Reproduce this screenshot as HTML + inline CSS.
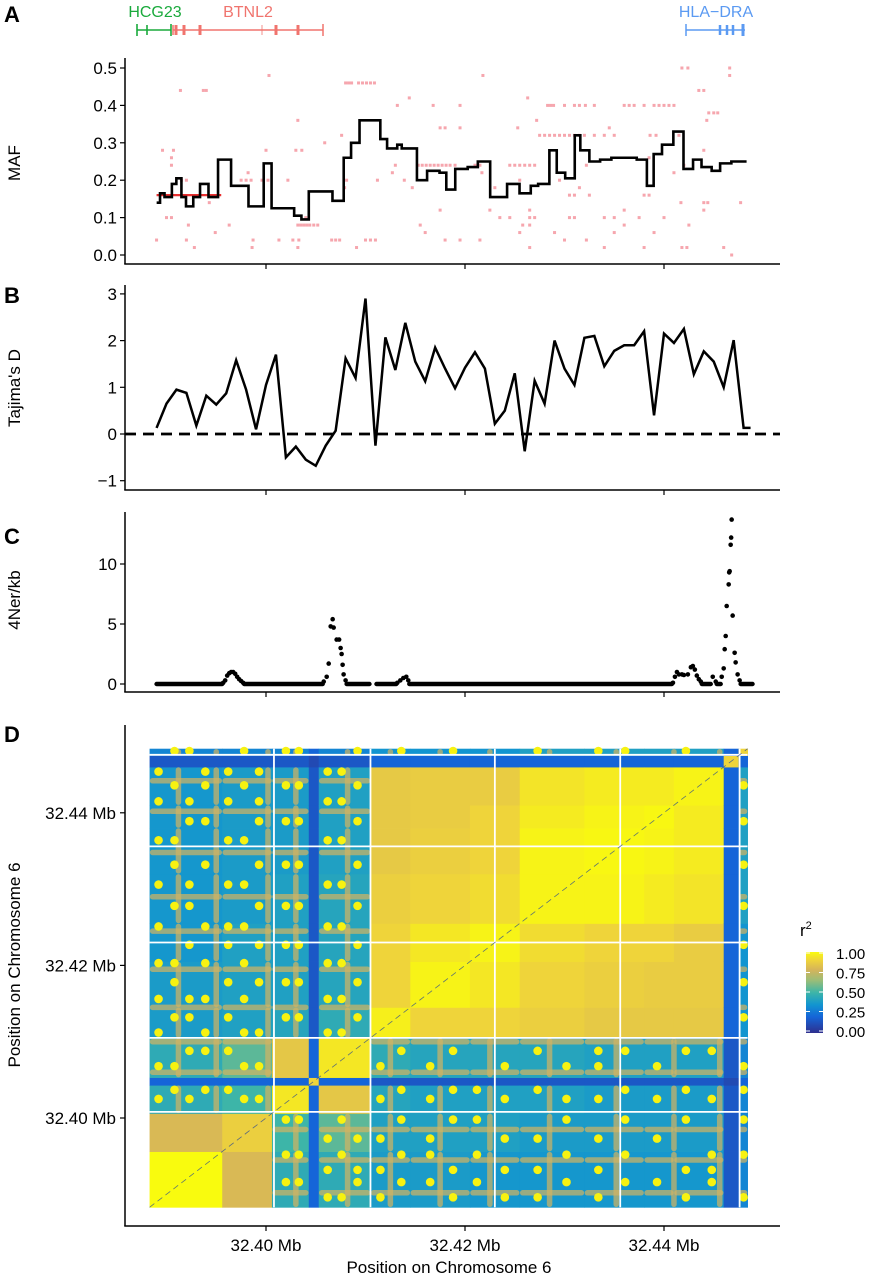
<!DOCTYPE html>
<html><head><meta charset="utf-8"><style>
html,body{margin:0;padding:0;background:#fff;}
svg{display:block;font-family:"Liberation Sans",Arial,sans-serif;}
</style></head><body>
<svg id="fig" width="876" height="1280" viewBox="0 0 876 1280" xmlns="http://www.w3.org/2000/svg">
<g id="annot">
<text x="4" y="22" font-size="22" font-weight="bold">A</text>
<text x="4" y="303" font-size="22" font-weight="bold">B</text>
<text x="4" y="544" font-size="22" font-weight="bold">C</text>
<text x="4" y="742" font-size="22" font-weight="bold">D</text>
<text transform="translate(20,163) rotate(-90)" text-anchor="middle" font-size="17">MAF</text>
<text transform="translate(20,388) rotate(-90)" text-anchor="middle" font-size="17">Tajima's D</text>
<text transform="translate(20,600) rotate(-90)" text-anchor="middle" font-size="17">4Ner/kb</text>
<text transform="translate(20,965) rotate(-90)" text-anchor="middle" font-size="17">Position on Chromosome 6</text>
<text x="449" y="1273" text-anchor="middle" font-size="17">Position on Chromosome 6</text>
<text x="155" y="17" text-anchor="middle" font-size="16" fill="#1aaa3c">HCG23</text>
<text x="248" y="17" text-anchor="middle" font-size="16" fill="#f0746e">BTNL2</text>
<text x="716" y="17" text-anchor="middle" font-size="16" fill="#5b9af2">HLA−DRA</text>
<text x="800" y="936" font-size="17">r<tspan dy="-7" font-size="11">2</tspan></text>
</g>
</svg>
<script>
// ---------- data ----------
// positions are kb offsets from 32.38 Mb
const xTicksMb = [32.40, 32.42, 32.44];
const xTickLabels = ["32.40 Mb", "32.42 Mb", "32.44 Mb"];
const mafTicks = [0.0, 0.1, 0.2, 0.3, 0.4, 0.5];
const tajTicks = [-1, 0, 1, 2, 3];
const recTicks = [0, 5, 10];
const ldTickLabels = ["32.40 Mb", "32.42 Mb", "32.44 Mb"];
const legendTicks = [0, 0.25, 0.5, 0.75, 1.0];

const mafStepPos = [9.01,9.35,9.80,10.54,10.99,11.50,11.96,12.69,13.37,14.22,15.18,16.49,18.24,19.77,20.56,22.83,23.56,24.30,26.68,27.81,28.55,29.40,31.49,32.17,33.19,33.64,35.17,36.19,37.44,38.12,39.02,40.27,41.29,42.53,44.23,45.48,46.61,47.35,48.48,49.22,50.07,51.03,51.59,52.50,53.58,54.71,57.26,58.28,58.96,59.80,60.94,61.96,62.92,63.77,64.79,65.64,66.77,68.3];
const mafStepVal = [0.14,0.165,0.155,0.19,0.205,0.155,0.13,0.155,0.19,0.155,0.255,0.185,0.13,0.245,0.125,0.105,0.095,0.17,0.145,0.26,0.30,0.36,0.31,0.285,0.295,0.285,0.20,0.225,0.22,0.175,0.23,0.235,0.25,0.155,0.19,0.165,0.185,0.19,0.28,0.22,0.205,0.32,0.28,0.25,0.255,0.26,0.255,0.185,0.27,0.295,0.33,0.23,0.255,0.235,0.225,0.245,0.25,0.25];

const mafDotPos = [61.8,62.4,66.6,66.6,20.3,41.8,28,28.3,28.6,29.3,29.7,30.1,30.5,30.9,11.4,13.7,14.0,63.5,64.0,34.4,46.3,33.2,36.8,39.5,48.3,48.6,48.9,50,51,51.5,52.1,53,56,56.5,57,58,59,59.5,60,60.5,61,64.5,65,65.4,23.2,47.2,64.3,37.5,38,39.5,45.3,54.5,27.6,47.5,48,48.5,49,49.5,50,50.5,51,51.5,52,53,54,55,58.6,59.2,61.5,25.9,9.6,10.7,20.0,23,23.6,64,10.5,58.5,10.5,33,35.3,35.7,36.1,36.5,36.9,37.3,37.7,38.1,38.5,39,41,41.5,44.5,45,45.5,46,46.5,47,52.2,62,18.2,32.7,41.7,61,11.5,12,17.5,18,18.5,19.6,20.2,22.2,28.1,31.2,33.9,45.5,49.5,27.9,34.7,43,51.5,50.5,51,52.5,58,58.5,14.3,64,64.4,67.7,61.7,37.5,42.5,46.5,56,64,10,10.5,24,43.5,44.5,46.5,47,50.5,51,54,55,57.5,60,12.2,16.3,23.2,23.5,23.8,24.1,24.4,24.8,25.2,35.5,45.8,46.5,56,62.5,14.9,36,45.5,49,55,59,9,12,18.7,21.3,22.7,23.3,26.6,27,27.4,30,30.5,31,38,39.5,41.5,50,52.2,12.8,18.6,23.2,29.1,46.5,54,58,61.8,62.3,66,66.8];
const mafDotVal = [0.5,0.5,0.5,0.48,0.48,0.48,0.46,0.46,0.46,0.46,0.46,0.46,0.46,0.46,0.44,0.44,0.44,0.44,0.44,0.42,0.42,0.4,0.4,0.4,0.4,0.4,0.4,0.4,0.4,0.4,0.4,0.4,0.4,0.4,0.4,0.4,0.4,0.4,0.4,0.4,0.4,0.38,0.38,0.38,0.36,0.36,0.36,0.34,0.34,0.34,0.34,0.34,0.32,0.32,0.32,0.32,0.32,0.32,0.32,0.32,0.32,0.32,0.32,0.32,0.32,0.32,0.32,0.32,0.32,0.30,0.28,0.28,0.28,0.28,0.28,0.28,0.26,0.26,0.24,0.24,0.24,0.24,0.24,0.24,0.24,0.24,0.24,0.24,0.24,0.24,0.24,0.24,0.24,0.24,0.24,0.24,0.24,0.24,0.24,0.24,0.22,0.22,0.22,0.22,0.2,0.2,0.2,0.2,0.2,0.2,0.2,0.2,0.2,0.2,0.2,0.2,0.2,0.18,0.18,0.18,0.18,0.16,0.16,0.16,0.16,0.16,0.14,0.14,0.14,0.14,0.14,0.12,0.12,0.12,0.12,0.12,0.1,0.1,0.1,0.1,0.1,0.1,0.1,0.1,0.1,0.1,0.1,0.1,0.1,0.08,0.08,0.08,0.08,0.08,0.08,0.08,0.08,0.08,0.08,0.08,0.08,0.08,0.08,0.06,0.06,0.06,0.06,0.06,0.06,0.04,0.04,0.04,0.04,0.04,0.04,0.04,0.04,0.04,0.04,0.04,0.04,0.04,0.04,0.04,0.04,0.04,0.02,0.02,0.02,0.02,0.02,0.02,0.02,0.02,0.02,0.02,0.0];
const mafRedSeg = [9.0, 15.5, 0.16];

const tajPos = [9,10,11,12,13,14,15,16,17,18,19,20,21,22,23,24,25,26,27,28,29,30,31,32,33,34,35,36,37,38,39,40,41,42,43,44,45,46,47,48,49,50,51,52,53,54,55,56,57,58,59,60,61,62,63,64,65,66,67,68,68.7];
const tajVal = [0.13,0.65,0.95,0.88,0.18,0.82,0.63,0.87,1.58,0.95,0.1,1.05,1.7,-0.5,-0.27,-0.55,-0.68,-0.25,0.07,1.62,1.2,2.9,-0.25,2.07,1.37,2.38,1.55,1.13,1.85,1.4,0.98,1.42,1.75,1.4,0.22,0.5,1.3,-0.37,1.14,0.65,2.0,1.4,1.05,2.06,2.1,1.45,1.78,1.9,1.9,2.2,0.4,2.15,1.95,2.25,1.28,1.77,1.55,1.0,2.01,0.13,0.13];

const recPos = [15.7,15.9,16.1,16.3,16.5,16.7,16.9,17.1,17.3,17.5,17.7,25.8,26.1,26.3,26.5,26.7,26.8,27.1,27.35,27.5,27.6,27.7,27.8,28.0,33.2,33.5,33.8,34.1,34.3,60.9,61.1,61.3,61.5,61.8,62.0,62.4,62.7,62.9,63.1,63.3,63.5,63.7,64.9,65.2,65.8,66.0,66.1,66.2,66.3,66.5,66.55,66.6,66.7,66.75,66.8,66.9,67.1,67.2,67.4,67.6];
const recVal = [0.1,0.3,0.7,0.9,1.0,1.0,0.85,0.6,0.4,0.25,0.1,0.2,0.6,1.7,4.8,5.4,4.7,3.7,3.7,3.0,2.5,1.6,0.8,0.3,0.1,0.3,0.5,0.6,0.3,0.1,0.6,1.0,0.8,0.8,0.75,0.8,1.4,1.5,1.2,0.7,0.4,0.2,0.6,0.2,0.6,1.3,2.9,4.0,6.5,8.3,9.3,9.4,11.6,12.2,13.7,5.7,2.6,1.8,0.8,0.3];
const recZeroStart = [9.0,17.8,28.1,31.1,34.4,63.8,65.3,67.7];
const recZeroEnd   = [15.6,25.7,30.4,33.1,60.8,64.7,65.7,68.9];

const ldEdges = [8.3,15.6,20.6,24.3,25.3,30.5,34.5,40.5,45.5,52,58,61,66,67.5,68.4];
const ldR2 = [
[1.0,.8,.45,.2,.45,.38,.38,.36,.36,.36,.36,.36,.15,.3],
[.8,.88,.5,.2,.55,.4,.4,.4,.38,.38,.38,.38,.15,.3],
[.45,.5,.95,.2,.85,.42,.4,.4,.4,.38,.38,.38,.15,.3],
[.2,.2,.2,.9,.2,.15,.15,.15,.15,.15,.15,.15,.1,.2],
[.45,.55,.85,.2,.95,.45,.42,.42,.42,.4,.4,.4,.15,.3],
[.38,.4,.42,.15,.45,.97,.9,.9,.88,.86,.86,.86,.2,.35],
[.38,.4,.4,.15,.42,.9,.98,.95,.9,.88,.87,.87,.2,.35],
[.36,.4,.4,.15,.42,.9,.95,.98,.92,.9,.9,.87,.2,.35],
[.36,.38,.4,.15,.42,.88,.9,.92,.98,.98,.96,.94,.2,.4],
[.36,.38,.38,.15,.4,.86,.88,.9,.98,.99,.98,.96,.2,.4],
[.36,.38,.38,.15,.4,.86,.87,.9,.96,.98,.99,.96,.2,.4],
[.36,.38,.38,.15,.4,.86,.87,.87,.94,.96,.96,.98,.2,.4],
[.15,.15,.15,.1,.15,.2,.2,.2,.2,.2,.2,.2,.9,.2],
[.3,.3,.3,.2,.3,.35,.35,.35,.4,.4,.4,.4,.2,.9]];
const ldGaps = [20.8,30.5,43,55.6,67.6];
// SNPs with high LD to other haplotypes (yellow dot rows/cols) and moderate (tan stripes)
const hiX = [9.2,10.8,12.3,13.9,16.2,17.8,19.3,22,23.3,26.2,27.6,29.2,31.5,33.6,36.5,38.8,41.2,44,47.3,50.2,53.4,56.1,59.3,62.2,64.8,68];
const hiY = [9.6,11.6,13.2,15.2,17.3,19.8,22.5,23.7,26.8,28.8,31.2,33.2,35.6,37.8,40.3,42.7,45.1,47.8,50.6,53.2,56.4,58.9,61.5,63.6,65.4,68.1];
// which (row, col) pairs of the hi SNPs show a yellow dot: '1' = dot
const hiMask = [
"10110010011010010110100101",
"01001101100101101001011010",
"11010010010110010110100110",
"00101101101001101001010011",
"10010110010110100110101000",
"01101001101001011001010101",
"10100110010110100101101010",
"01011001101001011010010101",
"11000110010110100101101001",
"00111001101001010010110110",
"10010110011010101101001010",
"01101001100101010010110101",
"10110100011010101101001010",
"01001011100101010010110101",
"11010100011010101101001100",
"00101011100101010010110011",
"10011100011010101101001010",
"01100011100101010010110101",
"10101100011010101101001010",
"01010011100101010010110101",
"11001100011010101101001010",
"00110011100101010010110101",
"10101010011010101101001010",
"01010101100101010010110101",
"10011010011010101101001010",
"01100101100101010010110101"];
const tanRows = [10.2,14.5,18.5,26,30,34.5,39.5,44.5,49,54.8,60.2,64.2];
const tanCols = [11.2,15,20.2,23,28.2,32.5,37.5,42.5,48.5,55.2,61,65.6];

// ---------- scales ----------
const NS = "http://www.w3.org/2000/svg";
const svg = document.getElementById('fig');
const X = kb => 266 + (kb - 20) * 9.95;
const XMb = mb => X((mb - 32.38) * 1000);
const YA = v => 255 - v * 374;
const YB = d => 434 - d * 46.7;
const YC = r => 684 - r * 12;
const YD = kb => 1118 - (kb - 20) * 7.63;
function mk(tag, attrs, parent) {
  const e = document.createElementNS(NS, tag);
  for (const k in attrs) e.setAttribute(k, attrs[k]);
  (parent || svg).appendChild(e);
  return e;
}
const stops = [[0,[46,47,142]],[0.2,[21,101,216]],[0.35,[18,149,208]],[0.5,[61,181,168]],[0.65,[155,189,120]],[0.78,[213,180,90]],[0.9,[239,212,58]],[1,[249,251,14]]];
function col(v) {
  for (let i = 1; i < stops.length; i++) {
    if (v <= stops[i][0]) {
      const a = stops[i-1], b = stops[i], t = (v - a[0]) / (b[0] - a[0]);
      const c = a[1].map((q, k) => Math.round(q + (b[1][k] - q) * t));
      return `rgb(${c[0]},${c[1]},${c[2]})`;
    }
  }
  return 'rgb(249,251,14)';
}
function blk(kb) {
  for (let i = 0; i < ldEdges.length - 1; i++) if (kb < ldEdges[i+1]) return i;
  return ldEdges.length - 2;
}

// ---------- gene track ----------
function gene(x1, x2, ticks, color, name) {
  const g = mk('g', {});
  
  
  mk('line', {x1, x2, y1: 30, y2: 30, stroke: color, 'stroke-width': 1.6}, g);
  ticks.forEach(t => mk('line', {x1: t[0], x2: t[0], y1: 30 - t[1], y2: 30 + t[1], stroke: color, 'stroke-width': t[2]}, g));
}
gene(137, 171, [[137,6,1.6],[147,5,1.6],[171,6,1.6]], '#1aaa3c', 'gene-hcg23');
gene(173, 323, [[173,5,1.5],[176,5,3],[184,5,3],[200,5,3],[262,5,0.8],[276,5,3],[298,5,3],[323,6,1.5]], '#f0746e', 'gene-btnl2');
gene(686, 745, [[686,6,1.5],[720,5,2.5],[727,5,2.5],[733,5,2.5],[743,6,3]], '#5b9af2', 'gene-hla-dra');

// ---------- axes ----------
function axes(top, bottom, ticks, yf, fmt, name) {
  const g = mk('g', {});
  
  
  mk('line', {x1: 125, x2: 125, y1: top, y2: bottom, stroke: '#000', 'stroke-width': 1.5}, g);
  mk('line', {x1: 124.25, x2: 780, y1: bottom, y2: bottom, stroke: '#000', 'stroke-width': 1.5}, g);
  ticks.forEach(t => {
    const y = yf(t);
    mk('line', {x1: 120, x2: 125, y1: y, y2: y, stroke: '#000', 'stroke-width': 1.2}, g);
    const tx = mk('text', {x: 117, y: y + 6, 'text-anchor': 'end', 'font-size': 17}, g);
    tx.textContent = fmt(t);
  });
  xTicksMb.forEach(m => {
    const x = XMb(m);
    mk('line', {x1: x, x2: x, y1: bottom, y2: bottom + 5, stroke: '#000', 'stroke-width': 1.2}, g);
  });
}
axes(58, 264, mafTicks, YA, t => t.toFixed(1), 'maf-axes');
axes(285, 490, tajTicks, YB, t => t < 0 ? '−' + Math.abs(t) : String(t), 'tajima-axes');
axes(512, 692, recTicks, YC, t => String(t), 'rec-axes');

// ---------- panel A ----------
const gA = mk('g', {});


mafDotPos.forEach((p, i) => {
  const r = mk('rect', {x: X(p) - 1.5, y: YA(mafDotVal[i]) - 1.5, width: 3, height: 3, fill: '#f06a78', opacity: 0.6}, gA);
  
  
});
const rs = mk('line', {x1: X(mafRedSeg[0]), x2: X(mafRedSeg[1]), y1: YA(mafRedSeg[2]), y2: YA(mafRedSeg[2]), stroke: '#e83030', 'stroke-width': 2.2});


let d = '';
mafStepPos.forEach((p, i) => {
  const x = X(p), y = YA(mafStepVal[i]);
  if (i === 0) d += `M${x},${y}`;
  else d += `H${x}V${y}`;
});
const mafLine = mk('path', {d, fill: 'none', stroke: '#000', 'stroke-width': 2.6, 'stroke-linejoin': 'miter'});



// ---------- panel B ----------
const zero = mk('line', {x1: 125, x2: 780, y1: YB(0), y2: YB(0), stroke: '#000', 'stroke-width': 2.8, 'stroke-dasharray': '11,7'});


const tajLine = mk('polyline', {points: tajPos.map((p, i) => X(p) + ',' + YB(tajVal[i])).join(' '), fill: 'none', stroke: '#000', 'stroke-width': 2.5, 'stroke-linejoin': 'miter'});



// ---------- panel C ----------
const gC = mk('g', {});


recZeroStart.forEach((s, i) => {
  const ln = mk('line', {x1: X(s), x2: X(recZeroEnd[i]), y1: YC(0), y2: YC(0), stroke: '#000', 'stroke-width': 4.4, 'stroke-linecap': 'round'}, gC);
  
  
});
recPos.forEach((p, i) => {
  const c = mk('circle', {cx: X(p), cy: YC(recVal[i]), r: 2.3, fill: '#000'}, gC);
  
  
});

// ---------- panel D ----------
const gD = mk('g', {});


for (let i = 0; i < ldEdges.length - 1; i++) {
  for (let j = 0; j < ldEdges.length - 1; j++) {
    const x1 = X(ldEdges[i]), x2 = X(ldEdges[i+1]);
    const y1 = YD(ldEdges[j+1]), y2 = YD(ldEdges[j]);
    const r = mk('rect', {x: x1, y: y1, width: x2 - x1 + 0.4, height: y2 - y1 + 0.4, fill: col(ldR2[j][i])}, gD);
    
    
  }
}
// tan stripes in low-LD regions
const gT = mk('g', {}, gD);


tanRows.forEach(rk => {
  const bj = blk(rk);
  for (let i = 0; i < ldEdges.length - 1; i++) {
    const v = ldR2[bj][i];
    if (v < 0.6 && v > 0.25) {
      const s = mk('line', {x1: X(ldEdges[i]) + 3, x2: X(ldEdges[i+1]) - 3, y1: YD(rk), y2: YD(rk), stroke: '#d3b462', 'stroke-width': 5.5, 'stroke-linecap': 'round', opacity: 0.7}, gT);
      
      
    }
  }
});
tanCols.forEach(ck => {
  const bi = blk(ck);
  for (let j = 0; j < ldEdges.length - 1; j++) {
    const v = ldR2[j][bi];
    if (v < 0.6 && v > 0.25) {
      const s = mk('line', {x1: X(ck), x2: X(ck), y1: YD(ldEdges[j+1]) + 3, y2: YD(ldEdges[j]) - 3, stroke: '#d3b462', 'stroke-width': 5.5, 'stroke-linecap': 'round', opacity: 0.7}, gT);
      
      
    }
  }
});
// yellow high-LD dots
const gY = mk('g', {}, gD);


hiY.forEach((py, j) => {
  hiX.forEach((px, i) => {
    const v = ldR2[blk(py)][blk(px)];
    if (v < 0.6 && v > 0.25 && hiMask[j][i] === '1') {
      const c = mk('circle', {cx: X(px), cy: YD(py), r: 4.3, fill: '#f7f211'}, gY);
      
      
    }
  });
});
ldGaps.forEach(g => {
  const v = mk('line', {x1: X(g), x2: X(g), y1: YD(68.4), y2: YD(8.3), stroke: '#fff', 'stroke-width': 1.8}, gD);
  
  
  const h = mk('line', {x1: X(8.3), x2: X(68.4), y1: YD(g), y2: YD(g), stroke: '#fff', 'stroke-width': 1.8}, gD);
  
  
});
const diag = mk('line', {x1: X(8.3), y1: YD(8.3), x2: X(68.4), y2: YD(68.4), stroke: '#1d3f9a', 'stroke-width': 0.8, opacity: 0.7, 'stroke-dasharray': '6,4'});



const gDA = mk('g', {});


mk('line', {x1: 125, x2: 125, y1: 725, y2: 1226, stroke: '#000', 'stroke-width': 1.5}, gDA);
mk('line', {x1: 124.25, x2: 780, y1: 1226, y2: 1226, stroke: '#000', 'stroke-width': 1.5}, gDA);
xTicksMb.forEach((m, i) => {
  const x = XMb(m);
  mk('line', {x1: x, x2: x, y1: 1226, y2: 1231, stroke: '#000', 'stroke-width': 1.2}, gDA);
  const t = mk('text', {x, y: 1251, 'text-anchor': 'middle', 'font-size': 17}, gDA);
  t.textContent = xTickLabels[i];
  const y = YD((m - 32.38) * 1000);
  mk('line', {x1: 120, x2: 125, y1: y, y2: y, stroke: '#000', 'stroke-width': 1.2}, gDA);
  const t2 = mk('text', {x: 116, y: y + 6, 'text-anchor': 'end', 'font-size': 17}, gDA);
  t2.textContent = ldTickLabels[i];
});

// ---------- legend ----------
const gL = mk('g', {});


const defs = mk('defs', {});
const lg = mk('linearGradient', {id: 'lgd', x1: 0, y1: 1, x2: 0, y2: 0}, defs);
stops.forEach(s => mk('stop', {offset: s[0], 'stop-color': col(s[0])}, lg));
const LY = v => 1031 - v * 78;
mk('rect', {x: 806, y: 952, width: 17, height: 81, fill: 'url(#lgd)'}, gL);
legendTicks.forEach(v => {
  const y = LY(v);
  mk('line', {x1: 806, x2: 810, y1: y, y2: y, stroke: '#fff', 'stroke-width': 1}, gL);
  mk('line', {x1: 819, x2: 823, y1: y, y2: y, stroke: '#fff', 'stroke-width': 1}, gL);
  const t = mk('text', {x: 836, y: y + 6, 'font-size': 15}, gL);
  t.textContent = v.toFixed(2);
});
</script>
</body></html>
